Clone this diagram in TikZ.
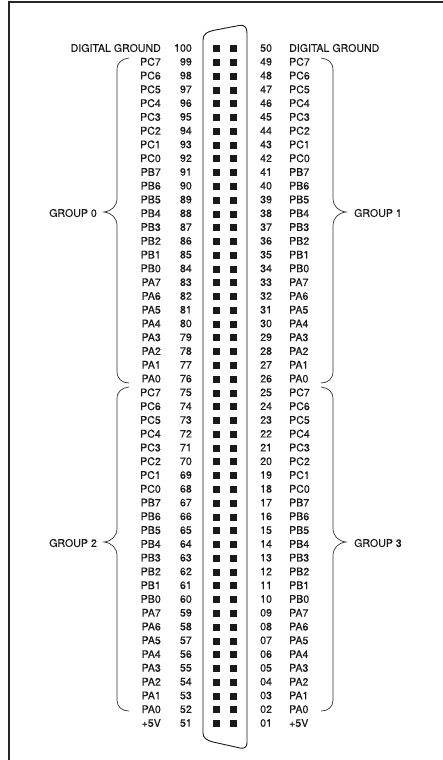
\documentclass[tikz,border=0pt]{standalone}
\usepackage{fontspec}
\setmainfont[FakeBold=0.2]{TeX Gyre Heros}
\usepackage{tikz}
\tikzset{
  pinnum/.style={inner sep=0pt,font=\fontsize{10.6}{12}\selectfont,text=black!90},
  sigl/.style={pinnum,anchor=east},
  sigr/.style={pinnum,anchor=west},
  contact/.style={fill=black!90,draw=none,inner sep=0pt,minimum size=7pt},
  brace/.style={draw=black!80,line width=0.7pt},
  shell/.style={draw=black!90,line width=0.9pt},
}
\begin{document}
\begin{tikzpicture}[x=1pt,y=-1pt]
        \useasboundingbox (0,0) rectangle (443,760);
        \draw [line width=2.6pt,draw=black!85] (9,760) -- (9,2) -- (443,2);
        % connector shell
        \coordinate (s0) at (203,40);
        \coordinate (s2) at (247,33);
        \coordinate (s3) at (247,743);
        \coordinate (s5) at (203,733);
        \draw [shell] (s0) .. controls (203,34) and (207,32) .. (213,30.5)
                -- (239,25.5) .. controls (244,24.5) and (247,27) .. (s2)
                -- (s3) .. controls (247,747) and (244,749) .. (240,748)
                -- (213,742) .. controls (207,740.5) and (203,738) .. (s5) -- cycle;
        % pins, one row at a time
        \foreach \n/\s [count=\i from 0] in {
                99/PC7,98/PC6,97/PC5,96/PC4,95/PC3,94/PC2,93/PC1,92/PC0,
                91/PB7,90/PB6,89/PB5,88/PB4,87/PB3,86/PB2,85/PB1,84/PB0,
                83/PA7,82/PA6,81/PA5,80/PA4,79/PA3,78/PA2,77/PA1,76/PA0,
                75/PC7,74/PC6,73/PC5,72/PC4,71/PC3,70/PC2,69/PC1,68/PC0,
                67/PB7,66/PB6,65/PB5,64/PB4,63/PB3,62/PB2,61/PB1,60/PB0,
                59/PA7,58/PA6,57/PA5,56/PA4,55/PA3,54/PA2,53/PA1,52/PA0,51/+5V} {
                \pgfmathsetmacro{\yy}{61.8+13.775*\i}
                \node (sl\n) [sigl] at (161,\yy) {\s};
                \node (n\n) [pinnum,anchor=east] at (192,\yy) {\n};
        }
        \foreach \n/\s [count=\i from 0] in {
                49/PC7,48/PC6,47/PC5,46/PC4,45/PC3,44/PC2,43/PC1,42/PC0,
                41/PB7,40/PB6,39/PB5,38/PB4,37/PB3,36/PB2,35/PB1,34/PB0,
                33/PA7,32/PA6,31/PA5,30/PA4,29/PA3,28/PA2,27/PA1,26/PA0,
                25/PC7,24/PC6,23/PC5,22/PC4,21/PC3,20/PC2,19/PC1,18/PC0,
                17/PB7,16/PB6,15/PB5,14/PB4,13/PB3,12/PB2,11/PB1,10/PB0,
                09/PA7,08/PA6,07/PA5,06/PA4,05/PA3,04/PA2,03/PA1,02/PA0,01/+5V} {
                \pgfmathsetmacro{\yy}{61.8+13.775*\i}
                \node (sr\n) [sigr] at (289,\yy) {\s};
                \node (n\n) [pinnum,anchor=west] at (260,\yy) {\n};
        }
        \foreach \i in {0,...,49} {
                \pgfmathsetmacro{\yy}{48.7+13.775*\i}
                \node (a\i) [contact] at (216.5,\yy) {};
                \node (b\i) [contact] at (233.5,\yy) {};
        }
        \node (n100) [pinnum,anchor=east] at (192,48) {100};
        \node (gndl) [sigl] at (161,48) {DIGITAL GROUND};
        \node (n50) [pinnum,anchor=west] at (260,48) {50};
        \node (gndr) [sigr] at (289,48) {DIGITAL GROUND};
        \node (g0) [pinnum,anchor=east] at (97,213) {GROUP 0};
        \node (g1) [pinnum,anchor=west] at (354,213) {GROUP 1};
        \node (g2) [pinnum,anchor=east] at (97,543) {GROUP 2};
        \node (g3) [pinnum,anchor=west] at (354,543) {GROUP 3};
        \coordinate (t0) at (104,212);
        \coordinate (t1) at (346,212);
        \coordinate (t2) at (104,542);
        \coordinate (t3) at (346,542);
        % left braces
        \draw [brace] (129,58) .. controls (122,59) and (117,62) .. (117,70)
                -- (117,198) .. controls (117,206) and (112,211) .. (t0)
                .. controls (112,213) and (117,218) .. (117,226)
                -- (117,371) .. controls (117,379) and (122,383) .. (129,383);
        \draw [brace] (129,387) .. controls (122,388) and (117,391) .. (117,399)
                -- (117,528) .. controls (117,536) and (112,541) .. (t2)
                .. controls (112,543) and (117,548) .. (117,556)
                -- (117,700) .. controls (117,707) and (122,711) .. (129,711);
        % right braces
        \draw [brace] (321,58) .. controls (328,59) and (333,62) .. (333,70)
                -- (333,198) .. controls (333,206) and (338,211) .. (t1)
                .. controls (338,213) and (333,218) .. (333,226)
                -- (333,371) .. controls (333,379) and (328,383) .. (321,383);
        \draw [brace] (321,387) .. controls (328,388) and (333,391) .. (333,399)
                -- (333,528) .. controls (333,536) and (338,541) .. (t3)
                .. controls (338,543) and (333,548) .. (333,556)
                -- (333,700) .. controls (333,707) and (328,711) .. (321,711);
\end{tikzpicture}
\end{document}
